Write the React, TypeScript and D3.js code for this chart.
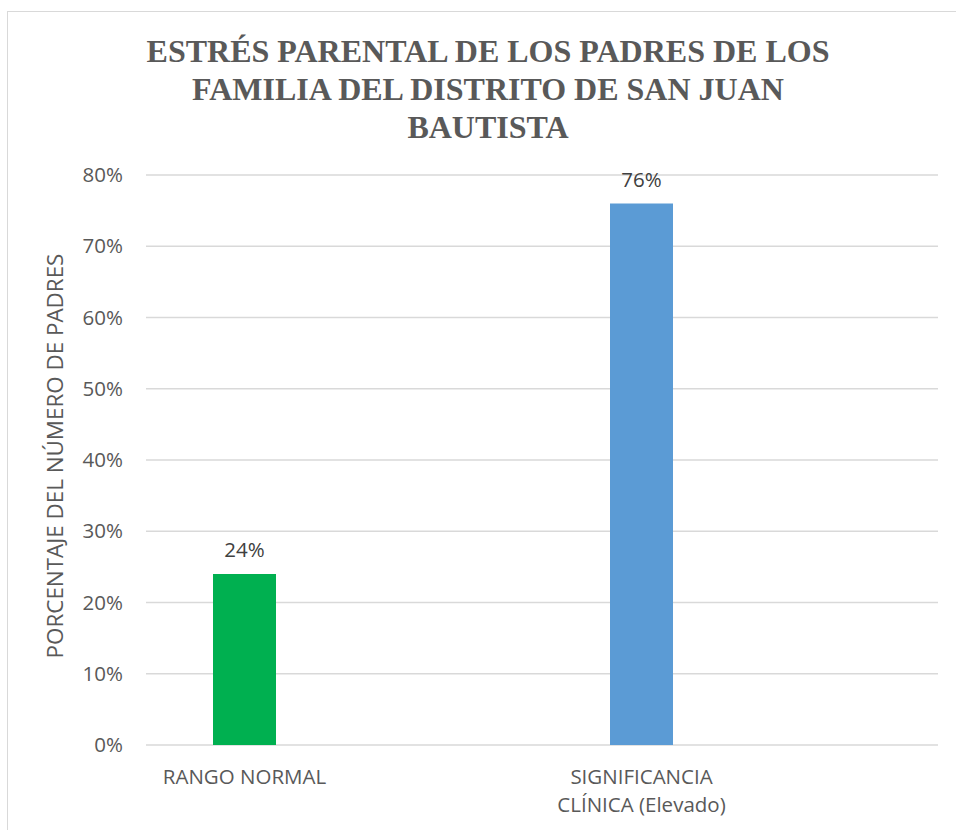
import React from "react";
import * as d3 from "d3";

const categories = ["RANGO NORMAL", "SIGNIFICANCIA CLÍNICA (Elevado)"];
const categoryLines = [["RANGO NORMAL"], ["SIGNIFICANCIA", "CLÍNICA (Elevado)"]];
const values = [0.24, 0.76];
const barColors = ["#00b050", "#5b9bd5"];
const yTicks = [0, 0.1, 0.2, 0.3, 0.4, 0.5, 0.6, 0.7, 0.8];
const titleLines = [
  "ESTRÉS PARENTAL DE LOS PADRES DE LOS",
  "FAMILIA DEL DISTRITO DE SAN JUAN",
  "BAUTISTA",
];
const yAxisTitle = "PORCENTAJE DEL NÚMERO DE PADRES";

export default function App() {
  const W = 956;
  const H = 830;
  const plotLeft = 146;
  const plotRight = 938;
  const y = d3.scaleLinear().domain([0, 0.8]).range([745, 175]);
  const x = d3.scalePoint<string>().domain(categories).range([244.5, 641.5]);
  const barW = 63;
  const fmt = d3.format(".0%");
  const sans = "'Open Sans', 'Noto Sans', sans-serif";

  return (
    <svg
      width={W}
      height={H}
      style={{ position: "absolute", left: 0, top: 0, background: "#fff" }}
    >
      <rect x={7.5} y={11.5} width={W} height={H} fill="#fff" stroke="#d9d9d9" strokeWidth={1} />
      {titleLines.map((t, i) => (
        <text
          key={i}
          x={488}
          y={62 + i * 38}
          textAnchor="middle"
          fontFamily="'Liberation Serif', 'Times New Roman', serif"
          fontWeight="bold"
          fontSize={32}
          fill="#595959"
        >
          {t}
        </text>
      ))}
      {yTicks.map((t) => (
        <g key={t}>
          <line
            x1={plotLeft}
            x2={plotRight}
            y1={y(t)}
            y2={y(t)}
            stroke="#d9d9d9"
            strokeWidth={1.5}
          />
          <text
            x={123}
            y={y(t)}
            dy="0.35em"
            textAnchor="end"
            fontFamily={sans}
            fontSize={20.5}
            fill="#595959"
          >
            {fmt(t)}
          </text>
        </g>
      ))}
      {categories.map((c, i) => (
        <g key={c}>
          <rect
            x={(x(c) as number) - barW / 2}
            y={y(values[i])}
            width={barW}
            height={y(0) - y(values[i])}
            fill={barColors[i]}
          />
          <text
            x={x(c) as number}
            y={y(values[i]) - 17}
            textAnchor="middle"
            fontFamily={sans}
            fontSize={20.5}
            fill="#404040"
          >
            {fmt(values[i])}
          </text>
          {categoryLines[i].map((ln, j) => (
            <text
              key={j}
              x={x(c) as number}
              y={784 + j * 28}
              textAnchor="middle"
              fontFamily={sans}
              fontSize={20.5}
              fill="#595959"
            >
              {ln}
            </text>
          ))}
        </g>
      ))}
      <text
        transform={`translate(63, 456) rotate(-90)`}
        textAnchor="middle"
        fontFamily={sans}
        fontSize={22.4}
        fill="#595959"
      >
        {yAxisTitle}
      </text>
    </svg>
  );
}
